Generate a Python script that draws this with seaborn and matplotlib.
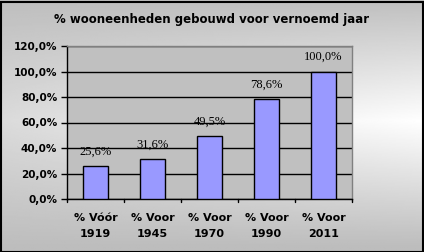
import numpy as np
import pandas as pd
import matplotlib
matplotlib.use("Agg")
import matplotlib.pyplot as plt
import seaborn as sns

categories = ["% Vóór\n1919", "% Voor\n1945", "% Voor\n1970", "% Voor\n1990", "% Voor\n2011"]
values = [25.6, 31.6, 49.5, 78.6, 100.0]
value_labels = ["25,6%", "31,6%", "49,5%", "78,6%", "100,0%"]
y_ticks = [0, 20, 40, 60, 80, 100, 120]
y_tick_labels = ["0,0%", "20,0%", "40,0%", "60,0%", "80,0%", "100,0%", "120,0%"]
title = "% wooneenheden gebouwd voor vernoemd jaar"

sns.set_theme(style="white")
plt.rcParams['font.family'] = ['DejaVu Sans']
plt.rcParams['text.color'] = 'black'
plt.rcParams['xtick.color'] = 'black'
plt.rcParams['ytick.color'] = 'black'

W, H = 424, 252
fig = plt.figure(figsize=(W / 100, H / 100), dpi=100)

# background gradient
bg = fig.add_axes([0, 0, 1, 1])
yy, xx = np.mgrid[0:1:200j, 0:1:300j]
v = 1 - np.abs(yy - 0.52) * 2
v = np.clip(v, 0, 1)
h = 0.45 + 0.55 * xx
t = v * h
gray = 0.74
img = gray + (1 - gray) * t
bg.imshow(img, cmap="gray", vmin=0, vmax=1, aspect="auto", extent=[0, 1, 0, 1], origin="lower")
bg.set_xlim(0, 1); bg.set_ylim(0, 1)
bg.axis("off")
bg.add_patch(plt.Rectangle((0.5 / W, 0.5 / H), 1 - 2 / W, 1 - 2 / H, fill=False,
                           edgecolor="black", linewidth=1.5, transform=bg.transAxes))

x0, x1 = 67 / W, 352 / W
y0, y1 = 1 - 199 / H, 1 - 46 / H
ax = fig.add_axes([x0, y0, x1 - x0, y1 - y0])
ax.set_facecolor("#C0C0C0")

df = pd.DataFrame({"cat": categories, "val": values})
sns.barplot(data=df, x="cat", y="val", ax=ax, color="#9999FF", width=0.44,
            edgecolor="black", linewidth=1.0, saturation=1, zorder=3)

ax.set_ylim(0, 120)
ax.set_xlim(-0.5, 4.5)
ax.set_yticks(y_ticks)
ax.set_yticklabels(y_tick_labels, fontsize=7.5, fontweight="bold", color="black")
ax.yaxis.grid(True, color="black", linewidth=1.0, zorder=0)
ax.set_axisbelow(True)
ax.set_xticks(range(5))
ax.set_xticklabels(categories, fontsize=8, fontweight="bold", linespacing=1.75, color="black")
ax.set_xlabel("")
ax.set_ylabel("")

for s in ["top", "right"]:
    ax.spines[s].set_color("#808080")
    ax.spines[s].set_linewidth(1.0)
for s in ["left", "bottom"]:
    ax.spines[s].set_color("black")
    ax.spines[s].set_linewidth(1.0)

ax.tick_params(axis="y", direction="out", length=4, width=1, color="black", pad=3, left=True)
ax.tick_params(axis="x", length=0, pad=10)
for b in np.arange(-0.5, 5.0, 1.0):
    ax.plot([b, b], [0, -2.2], color="black", linewidth=1, clip_on=False, zorder=5)

for i, (val, lab) in enumerate(zip(values, value_labels)):
    ax.text(i, val + 6.5, lab, ha="center", va="bottom", fontsize=9,
            family="Liberation Serif", color="black", zorder=6)

fig.text(212 / W, 1 - 20 / H, title, ha="center", va="center", fontsize=8.5,
         fontweight="bold", color="black")

fig.savefig("out.png", dpi=100)
